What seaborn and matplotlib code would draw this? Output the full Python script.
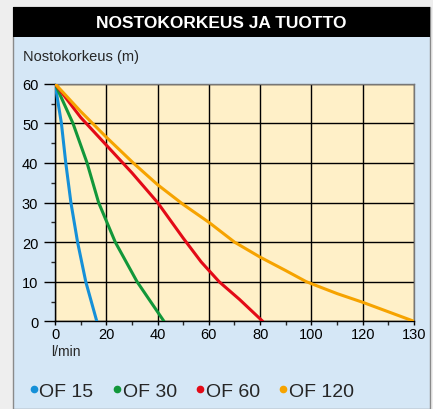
import numpy as np
import pandas as pd
import matplotlib
matplotlib.use("Agg")
import matplotlib.pyplot as plt
from matplotlib.patches import Rectangle
from matplotlib.lines import Line2D
import seaborn as sns

# data (flow l/min, head m)
of15_flow = [0, 2.5, 4.2, 6.2, 8.8, 12, 16.3]
of15_head = [60, 50, 40, 30, 20, 10, 0]
of30_flow = [0, 7, 12.5, 17, 23.5, 32, 42.5]
of30_head = [60, 50, 40, 30, 20, 10, 0]
of60_flow = [0, 10, 20, 30, 40, 50, 57, 64, 72, 81]
of60_head = [60, 51.5, 44.5, 37.5, 30, 21, 15, 10, 5.5, 0]
of120_flow = [0, 10, 20, 30.5, 40, 50, 60, 70, 80, 90, 98, 110, 120, 130]
of120_head = [60, 53, 46.5, 40, 34.5, 29.5, 25, 20, 16.2, 12.8, 10, 7, 4.8, 0]

models = ["OF 15", "OF 30", "OF 60", "OF 120"]
colors = ["#1590d8", "#12973a", "#e30a17", "#f6a300"]
x_ticks = [0, 20, 40, 60, 80, 100, 120, 130]
y_ticks = [0, 10, 20, 30, 40, 50, 60]

frames = []
for name, fl, hd in zip(models,
                        [of15_flow, of30_flow, of60_flow, of120_flow],
                        [of15_head, of30_head, of60_head, of120_head]):
    frames.append(pd.DataFrame({"flow": fl, "head": hd, "model": name}))
df = pd.concat(frames, ignore_index=True)

sns.set_style("white")
plt.rcParams["font.family"] = ["Liberation Sans", "DejaVu Sans"]

W, H = 433, 410
fig = plt.figure(figsize=(W / 100, H / 100), dpi=100, facecolor="#eeeeee")

# panel background and title bar
fig.patches.append(Rectangle((13 / W, 0), 417 / W, 1 - 8 / H, transform=fig.transFigure,
                             facecolor="#d5e7f6", edgecolor="#8a8a8a", lw=1, zorder=-2))
fig.patches.append(Rectangle((13 / W, 1 - 38 / H), 417 / W, 30 / H, transform=fig.transFigure,
                             facecolor="black", edgecolor="black", lw=0, zorder=-1))
fig.text(221.5 / W, 1 - 23 / H, "NOSTOKORKEUS JA TUOTTO", color="white",
         fontsize=12.5, fontweight="bold", ha="center", va="center")

ax = fig.add_axes([55 / W, 1 - 322.3 / H, (414 - 55) / W, (322.3 - 84.7) / H])
ax.set_facecolor("#fff0c8")


# the last x interval (120-130) is drawn as wide as the others
def fwd(x):
    x = np.asarray(x, dtype=float)
    return np.where(x <= 120, x, 120 + 2 * (x - 120))


def inv(x):
    x = np.asarray(x, dtype=float)
    return np.where(x <= 120, x, 120 + (x - 120) / 2)


ax.set_xscale("function", functions=(fwd, inv))

sns.lineplot(data=df, x="flow", y="head", hue="model", hue_order=models,
             palette=colors, sort=False, estimator=None, lw=2.2,
             legend=False, ax=ax, zorder=3)

ax.set_xlim(0, 130)
ax.set_ylim(0, 60)
ax.set_xticks(x_ticks)
ax.set_xticks([10, 30, 50, 70, 90, 110, 125], minor=True)
ax.set_yticks(y_ticks)
ax.set_yticks([5, 15, 25, 35, 45, 55], minor=True)
ax.set_xticklabels([str(t) for t in x_ticks])
ax.grid(True, which="major", color="black", lw=1)
ax.tick_params(axis="both", which="major", labelsize=10.5, colors="black")
ax.tick_params(axis="y", which="major", length=8, width=1, direction="out", left=True, pad=4)
ax.tick_params(axis="y", which="minor", length=3, width=1, direction="out", left=True)
ax.tick_params(axis="x", which="major", length=3, width=1, direction="out", bottom=True, pad=1)
ax.tick_params(axis="x", which="minor", length=3, width=1, direction="out", bottom=True)
ax.set_xlabel("")
ax.set_ylabel("")
for side in ["left", "bottom"]:
    ax.spines[side].set_color("black")
    ax.spines[side].set_linewidth(1)
for side in ["top", "right"]:
    ax.spines[side].set_color("#777777")
    ax.spines[side].set_linewidth(1)

fig.text(23 / W, 1 - 57 / H, "Nostokorkeus (m)", fontsize=10.5, ha="left", va="center")
fig.text(51 / W, 1 - 352 / H, "l/min", fontsize=10, ha="left", va="center")

handles = [Line2D([], [], ls="none", marker="o", ms=4.5, color=c) for c in colors]
fig.legend(handles, models, loc="center left", bbox_to_anchor=(20 / W, 1 - 392 / H),
           ncol=4, frameon=False, fontsize=14, handlelength=0.4, handletextpad=0.1,
           columnspacing=1.0, borderpad=0)

fig.savefig("out.png", dpi=100, facecolor=fig.get_facecolor())
